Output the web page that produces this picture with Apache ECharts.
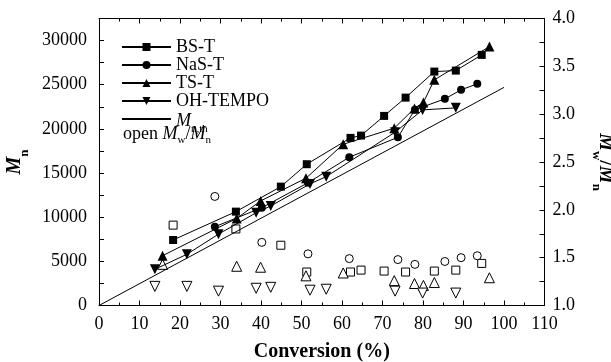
<!DOCTYPE html>
<html>
<head>
<meta charset="utf-8">
<script src="https://cdn.jsdelivr.net/npm/echarts/dist/echarts.min.js"></script>
<style>
html,body{margin:0;padding:0;background:#fff;}
#chart{width:611px;height:362px;}
</style>
</head>
<body>
<div id="chart"></div>
<script>
// ---- data ----
const bsConv = [18.3, 33.8, 44.9, 51.3, 62.1, 64.7, 70.4, 75.7, 82.8, 88.1, 94.5];
const bsMn   = [7420, 10630, 13460, 16000, 18980, 19240, 21470, 23540, 26490, 26600, 28380];
const bsPdi  = [1.84, 1.80, 1.63, 1.35, 1.35, 1.37, 1.36, 1.35, 1.36, 1.37, 1.44];

const nasConv = [28.6, 40.2, 51.6, 61.8, 73.8, 78.0, 85.4, 89.4, 93.4];
const nasMn   = [8920, 11070, 13900, 16790, 19050, 22170, 23400, 24420, 25100];
const nasPdi  = [2.14, 1.66, 1.54, 1.49, 1.48, 1.43, 1.46, 1.50, 1.52];

const tsConv = [15.7, 34.0, 39.9, 51.1, 60.3, 72.9, 77.9, 80.1, 82.8, 96.4];
const tsMn   = [5640, 9860, 11840, 14410, 18260, 20080, 22320, 23000, 25550, 29320];
const tsPdi  = [1.43, 1.41, 1.40, 1.31, 1.34, 1.26, 1.23, 1.21, 1.24, 1.29];

const ohConv = [13.8, 21.7, 29.5, 38.8, 42.4, 52.1, 56.1, 73.1, 79.9, 88.1];
const ohMn   = [4100, 5800, 8080, 10500, 11270, 13770, 14590, 19620, 22150, 22380];
const ohPdi  = [1.20, 1.20, 1.15, 1.18, 1.19, 1.16, 1.17, 1.15, 1.13, 1.13];

const thConv = [0, 100];
const thMn   = [0, 24700];

const xTicks = {min: 0, max: 110, step: 10};
const yLeftTicks = {min: 0, max: 32500, step: 5000};
const yRightTicks = {min: 1.0, max: 4.0, step: 0.5};

// ---- chart ----
const FONT = '"Liberation Serif", "Times New Roman", serif';
const pairs = (xs, ys) => xs.map((x, i) => [x, ys[i]]);

function filled(name, xs, ys, symbol, size, rotate) {
  return {
    name: name, type: 'line', xAxisIndex: 0, yAxisIndex: 0,
    data: pairs(xs, ys), symbol: symbol, symbolSize: size, symbolRotate: rotate || 0,
    showSymbol: true, showAllSymbol: true,
    lineStyle: {color: '#000', width: 1},
    itemStyle: {color: '#000', borderWidth: 0},
    emphasis: {disabled: true}, z: 3
  };
}
function open(xs, ys, symbol, size, rotate) {
  return {
    type: 'scatter', xAxisIndex: 0, yAxisIndex: 1,
    data: pairs(xs, ys), symbol: symbol, symbolSize: size, symbolRotate: rotate || 0,
    itemStyle: {color: '#fff', borderColor: '#000', borderWidth: 1, opacity: 1},
    emphasis: {disabled: true}, z: 2
  };
}

// legend subscript (M centred on the icon line, subscript hanging below)
const legendRich = {
  i: {fontFamily: FONT, fontStyle: 'italic', fontSize: 18, lineHeight: 18, color: '#000', padding: [2, 0, 0, 0], verticalAlign: 'top'},
  s: {fontFamily: FONT, fontSize: 11, lineHeight: 11, color: '#000', padding: [14, 0, 0, 0], verticalAlign: 'top'}
};
const noteRich = {
  r: {fontFamily: FONT, fontSize: 18, lineHeight: 18, color: '#000', verticalAlign: 'top'},
  i: {fontFamily: FONT, fontStyle: 'italic', fontSize: 18, lineHeight: 18, color: '#000', verticalAlign: 'top'},
  s: {fontFamily: FONT, fontSize: 11, lineHeight: 11, color: '#000', padding: [10, 0, 0, 0], verticalAlign: 'top'}
};
const nameRich = {
  i: {fontFamily: FONT, fontStyle: 'italic', fontWeight: 'bold', fontSize: 20, color: '#000', padding: [0, 0, 6, 0], verticalAlign: 'bottom'},
  s: {fontFamily: FONT, fontWeight: 'bold', fontSize: 13, color: '#000', verticalAlign: 'bottom'},
  r: {fontFamily: FONT, fontWeight: 'bold', fontSize: 20, color: '#000', padding: [0, 0, 6, 0], verticalAlign: 'bottom'}
};

const axisCommon = {
  axisLine: {show: true, onZero: false, lineStyle: {color: '#000', width: 1}},
  axisTick: {show: true, inside: true, length: 5, lineStyle: {color: '#000', width: 1}},
  splitLine: {show: false}
};
const labelStyle = {fontFamily: FONT, fontSize: 18, color: '#000'};

const option = {
  animation: false,
  backgroundColor: '#fff',
  grid: {left: 99, right: 66.5, top: 18.5, bottom: 56.5, containLabel: false, outerBoundsMode: 'none'},
  xAxis: [
    Object.assign({}, axisCommon, {
      type: 'value', position: 'bottom', min: xTicks.min, max: xTicks.max, interval: xTicks.step,
      minorTick: {show: true, splitNumber: 2, length: 3, lineStyle: {color: '#000'}},
      axisLabel: Object.assign({margin: 10}, labelStyle),
      name: 'Conversion (%)', nameLocation: 'middle', nameGap: 36,
      nameTextStyle: {fontFamily: FONT, fontWeight: 'bold', fontSize: 20, color: '#000'}
    }),
    Object.assign({}, axisCommon, {
      type: 'value', position: 'top', min: xTicks.min, max: xTicks.max, interval: xTicks.step,
      minorTick: {show: true, splitNumber: 2, length: 3, lineStyle: {color: '#000'}},
      axisLabel: {show: false}
    })
  ],
  yAxis: [
    Object.assign({}, axisCommon, {
      type: 'value', position: 'left', min: yLeftTicks.min, max: yLeftTicks.max, interval: yLeftTicks.step / 2,
      axisLabel: Object.assign({margin: 12, showMaxLabel: false,
        formatter: v => (v % yLeftTicks.step === 0 ? String(v) : '')}, labelStyle),
      name: '{i|M}{s|n}', nameLocation: 'middle', nameGap: 52, nameRotate: 90,
      nameTextStyle: {rich: nameRich}
    }),
    Object.assign({}, axisCommon, {
      type: 'value', position: 'right', min: yRightTicks.min, max: yRightTicks.max, interval: yRightTicks.step,
      minorTick: {show: true, splitNumber: 2, length: 5, lineStyle: {color: '#000'}},
      axisLabel: Object.assign({margin: 8, formatter: v => v.toFixed(1)}, labelStyle),
      name: '{i|M}{s|w}{r|/}{i|M}{s|n}', nameLocation: 'middle', nameGap: 45, nameRotate: -90,
      nameTextStyle: {rich: nameRich}
    })
  ],
  legend: {
    orient: 'vertical', left: 116, top: 33, itemWidth: 49, itemHeight: 10, itemGap: 0,
    data: ['BS-T', 'NaS-T', 'TS-T', 'OH-TEMPO', 'Mn,th'],
    formatter: n => (n === 'Mn,th' ? '{i|M}{s|n,th}' : n),
    textStyle: {fontFamily: FONT, fontSize: 18, color: '#000', lineHeight: 17.4, rich: legendRich},
    selectedMode: false
  },
  graphic: [{
    type: 'text', left: 123, top: 125,
    style: {text: '{r|open }{i|M}{s|w}{r|/}{i|M}{s|n}', rich: noteRich, fill: '#000'}
  }],
  series: [
    open(bsConv, bsPdi, 'rect', 8),
    open(nasConv, nasPdi, 'circle', 8),
    open(tsConv, tsPdi, 'triangle', 10),
    open(ohConv, ohPdi, 'triangle', 10, 180),
    {
      name: 'Mn,th', type: 'line', xAxisIndex: 0, yAxisIndex: 0,
      data: pairs(thConv, thMn), symbol: 'none', showSymbol: false,
      lineStyle: {color: '#000', width: 1},
      itemStyle: {color: 'transparent', borderColor: 'transparent', borderWidth: 0}, z: 3
    },
    filled('BS-T', bsConv, bsMn, 'rect', 8),
    filled('NaS-T', nasConv, nasMn, 'circle', 8),
    filled('TS-T', tsConv, tsMn, 'triangle', 10),
    filled('OH-TEMPO', ohConv, ohMn, 'triangle', 10, 180)
  ]
};

echarts.init(document.getElementById('chart'), null, {renderer: 'canvas'}).setOption(option);
</script>
</body>
</html>
